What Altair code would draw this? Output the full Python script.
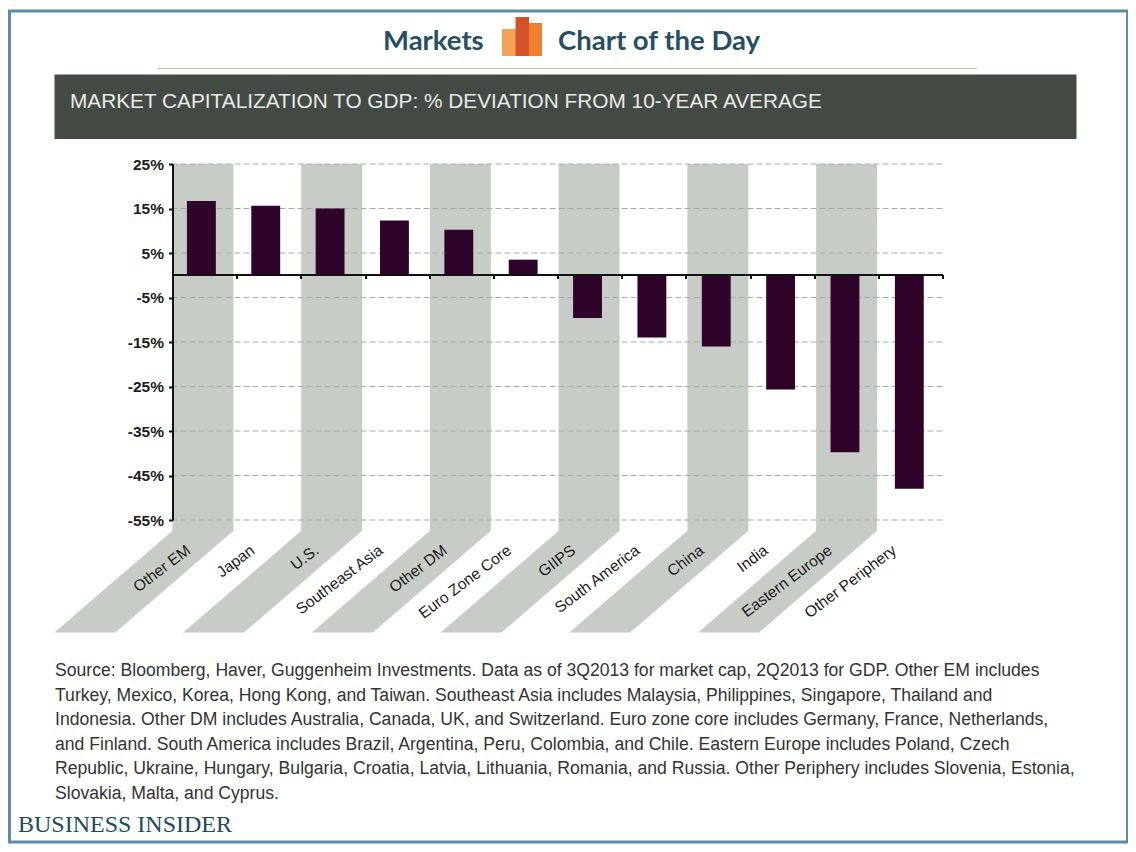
import altair as alt
import pandas as pd

categories = ["Other EM", "Japan", "U.S.", "Southeast Asia", "Other DM", "Euro Zone Core",
              "GIIPS", "South America", "China", "India", "Eastern Europe", "Other Periphery"]
values = [16.7, 15.6, 15.0, 12.3, 10.2, 3.5, -9.6, -14.0, -16.0, -25.7, -39.8, -48.0]
y_ticks = [-55, -45, -35, -25, -15, -5, 5, 15, 25]
source_lines = [
    "Source: Bloomberg, Haver, Guggenheim Investments. Data as of 3Q2013 for market cap, 2Q2013 for GDP. Other EM includes",
    "Turkey, Mexico, Korea, Hong Kong, and Taiwan. Southeast Asia includes Malaysia, Philippines, Singapore, Thailand and",
    "Indonesia. Other DM includes Australia, Canada, UK, and Switzerland. Euro zone core includes Germany, France, Netherlands,",
    "and Finland. South America includes Brazil, Argentina, Peru, Colombia, and Chile. Eastern Europe includes Poland, Czech",
    "Republic, Ukraine, Hungary, Bulgaria, Croatia, Latvia, Lithuania, Romania, and Russia. Other Periphery includes Slovenia, Estonia,",
    "Slovakia, Malta, and Cyprus.",
]
title_text = "MARKET CAPITALIZATION TO GDP: % DEVIATION FROM 10-YEAR AVERAGE"

OX, OY = 172.5, 164.0
W, H = 770, 356
SANS = "Liberation Sans"


def px(v):
    return alt.value(v - OX)


def py(v):
    return alt.value(v - OY)


one = alt.Data(values=[{"a": 1}])


def box(x0, y0, x1, y1, **kw):
    return alt.Chart(one).mark_rect(**kw).encode(x=px(x0), x2=px(x1), y=py(y0), y2=py(y1))


def label(x, y, text, **kw):
    return alt.Chart(one).mark_text(text=text, **kw).encode(x=px(x), y=py(y))


xs = alt.Scale(domain=[0, 12], nice=False, zero=False)
ys = alt.Scale(domain=[-55, 25], nice=False, zero=False)

x_axis = alt.Axis(
    values=list(range(1, 13)), labels=False, offset=-(H - 110.5), domainColor="#111", title=None,
    domainWidth=2, tickColor="#111", tickWidth=2, tickSize=4, grid=False, zindex=1,
)
y_axis = alt.Axis(
    values=y_ticks, labelExpr="datum.value + '%'", domainColor="#111", domainWidth=2, title=None,
    tickColor="#111", tickWidth=2, tickSize=4, grid=False, labelFont=SANS,
    labelFontSize=15.5, labelColor="#1c1c1c", labelFontWeight="bold", labelPadding=5, zindex=1,
)

df = pd.DataFrame({"cat": categories, "val": values})
df["i"] = range(len(df))
df["x0"] = df.i * 1.003 + 0.225
df["x1"] = df.i * 1.003 + 0.675
df["lx"] = df.i + 0.25
df["ly"] = -61.4
df["zero"] = 0.0

band_rows = []
for i in range(0, 12, 2):
    for yv, shift in [(25, 0), (-57.4, 0), (-80.3, -1.84)]:
        start = i * 1.003 + shift
        band_rows.append({"band": i, "yy": yv, "a0": start, "a1": start + 0.95})
bands = pd.DataFrame(band_rows)

band_layer = alt.Chart(bands).mark_area(color="#c8ccc6", orient="horizontal", clip=False).encode(
    y=alt.Y("yy:Q", scale=ys, axis=y_axis),
    x=alt.X("a0:Q", scale=xs, axis=x_axis),
    x2="a1:Q",
    detail="band:N",
)

grid_layer = alt.Chart(pd.DataFrame({"t": y_ticks})).mark_rule(
    color="#a9aba8", strokeWidth=1, strokeDash=[6, 3]
).encode(y=alt.Y("t:Q", scale=ys, axis=y_axis))

bar_layer = alt.Chart(df).mark_rect(color="#2e0428").encode(
    x=alt.X("x0:Q", scale=xs, axis=x_axis),
    x2="x1:Q",
    y=alt.Y("val:Q", scale=ys, axis=y_axis),
    y2="zero:Q",
)

cat_layer = alt.Chart(df).mark_text(
    angle=323, align="right", baseline="middle", font=SANS, fontSize=15.6, color="#1c1c1c"
).encode(
    x=alt.X("lx:Q", scale=xs, axis=x_axis),
    y=alt.Y("ly:Q", scale=ys, axis=y_axis),
    text="cat:N",
)

layers = [
    box(9.5, 11, 1127.5, 842, fill="#ffffff", stroke="#5f8ca3", strokeWidth=3),
    box(158, 68, 977, 69, fill="#e3ab8e"),
    box(54.5, 74.5, 1076.5, 139, fill="#444a44"),
    box(502, 29, 516, 56, fill="#f1a255"),
    box(529, 23, 542, 56, fill="#f07f2d"),
    box(515.5, 17, 529, 56, fill="#d4522a"),
    label(383, 42, "Markets", font="Lato", fontSize=27.5, fontWeight="bold", color="#264f63", align="left"),
    label(558, 42, "Chart of the Day", font="Lato", fontSize=27.5, fontWeight="bold", color="#264f63", align="left"),
    label(70, 102, title_text, font=SANS, fontSize=20.8, color="#e9ebe8", align="left"),
    band_layer,
    grid_layer,
    bar_layer,
    cat_layer,
    label(55, 671, source_lines, font=SANS, fontSize=17.6, color="#333333", align="left", lineHeight=24.6),
    label(18, 825, "BUSINESS INSIDER", font="Liberation Serif", fontSize=24, color="#1d4b5c", align="left"),
]

chart = alt.layer(*layers).properties(
    width=W, height=H, background="#ffffff",
    padding={"left": 164.5, "top": 156, "right": 185.5, "bottom": 324},
    autosize=alt.AutoSizeParams(type="none"),
).configure_view(stroke=None)

chart.save("out.html", embed_options={"renderer": "svg", "actions": False})
